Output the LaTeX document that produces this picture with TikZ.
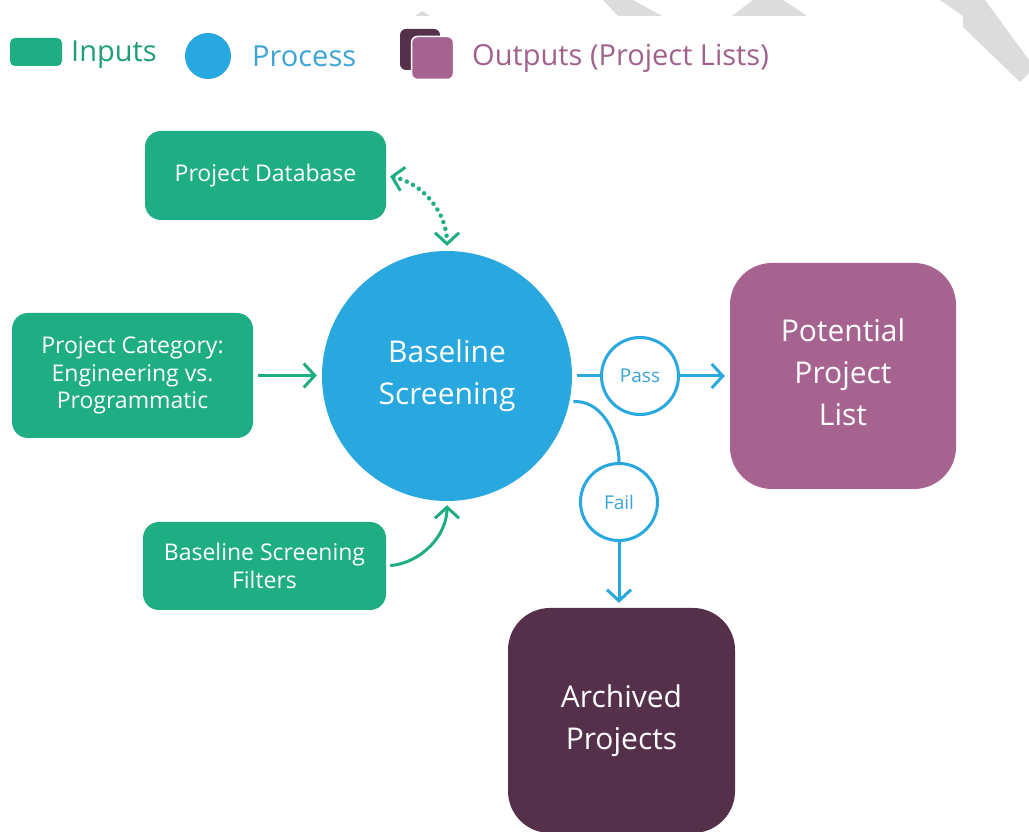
\documentclass[tikz,border=0pt]{standalone}
\usepackage{fontspec}
\setmainfont{Open Sans}
\usetikzlibrary{arrows.meta,calc}
\definecolor{ingreen}{HTML}{1FAD84}
\definecolor{ingreentxt}{HTML}{1E9F79}
\definecolor{procblue}{HTML}{29A8E0}
\definecolor{proctxt}{HTML}{3AA5D6}
\definecolor{outpink}{HTML}{A6638F}
\definecolor{outtxt}{HTML}{A0618C}
\definecolor{outdark}{HTML}{55304B}
\definecolor{wmgrey}{HTML}{DCDCDC}
\tikzset{
  inbox/.style={fill=ingreen, rounded corners=16pt, text=white, align=center, inner sep=0pt,
    font=\fontsize{23}{27.5}\selectfont},
  outbox/.style={rounded corners=42pt, text=white, align=center, inner sep=0pt,
    minimum width=226pt, font=\fontsize{30}{42}\selectfont},
  proc/.style={circle, fill=procblue, text=white, align=center, inner sep=0pt,
    minimum size=250pt, font=\fontsize{30}{42}\selectfont},
  gate/.style={circle, draw=procblue, line width=3pt, fill=white, text=proctxt, inner sep=0pt,
    minimum size=77pt, font=\fontsize{19}{23}\selectfont},
  barb/.tip={Straight Barb[length=11pt,width=24pt,line width=3pt]},
  gline/.style={draw=ingreen, line width=3pt},
  bline/.style={draw=procblue, line width=3pt},
  dotline/.style={draw=ingreen, line width=4.5pt, line cap=round, dash pattern=on 0pt off 7pt},
  legtxt/.style={anchor=base west, inner sep=0pt, font=\fontsize{29}{35}\selectfont},
}
\begin{document}
\begin{tikzpicture}[x=1pt,y=1pt]
\useasboundingbox (0,0) rectangle (1029,831);
% faint background stripes at the top edge
\fill[wmgrey] (415,815) -- (422,820) -- (430,815) -- cycle;
\fill[wmgrey] (603,831) -- (633,831) -- (662,815) -- (618,815) -- cycle;
\fill[wmgrey] (753,831) -- (783,831) -- (807,815) -- (732,815) -- cycle;
\fill[wmgrey] (940,831) -- (963,815) -- (963,804) -- (1020,749) -- (1029,758) -- (1029,771) -- (985,831) -- cycle;

% legend
\node[fill=ingreen, rounded corners=5pt, minimum width=52pt, minimum height=28pt, inner sep=0pt] (lgin) at (36,779) {};
\node[legtxt, text=ingreentxt] (lgintxt) at (71,769) {Inputs};
\node[circle, fill=procblue, minimum size=46pt, inner sep=0pt] (lgproc) at (208,775) {};
\node[legtxt, text=proctxt] (lgproctxt) at (252,764) {Process};
\node[fill=outdark, rounded corners=6pt, minimum width=40pt, minimum height=41pt, inner sep=0pt] (lgout1) at (420,781.5) {};
\node[fill=outpink, draw=white, line width=1.5pt, rounded corners=6pt, minimum width=42pt, minimum height=43pt, inner sep=0pt] (lgout2) at (432.5,773) {};
\node[legtxt, text=outtxt] (lgouttxt) at (472,765) {Outputs (Project Lists)};

% main nodes
\node[proc] (bs) at (447,455) {Baseline\\Screening};
\node[inbox, minimum width=241pt, minimum height=89pt] (db) at (265.5,655.5) {Project Database};
\node[inbox, minimum width=241pt, minimum height=125pt] (cat) at (132.5,455.5) {Project Category:\\Engineering vs.\\Programmatic};
\node[inbox, minimum width=243pt, minimum height=88pt] (filt) at (264.5,265) {Baseline Screening\\Filters};
\node[outbox, fill=outpink, minimum height=226pt, text depth=7pt] (pot) at (843,455) {Potential\\Project\\List};
\node[outbox, fill=outdark, minimum width=227pt, minimum height=225pt] (arch) at (621.5,110.5) {Archived\\Projects};
\node[gate] (pass) at (640,455) {Pass};
\node[gate] (fail) at (619,329) {Fail};

% connectors
\draw[dotline, {barb}-{barb}, shorten <=4pt, shorten >=5pt] (db.east) to[out=-12,in=90] (bs.north);
\draw[gline, -{barb}, shorten <=5pt, shorten >=5pt] (cat.east) -- (cat.east -| bs.west);
\draw[gline, -{barb}, shorten <=4pt, shorten >=4pt] (filt.east) to[out=5,in=-90] (bs.south);
\draw[bline, shorten <=5pt] (bs.east) -- (pass.west);
\draw[bline, -{barb}, shorten >=5pt] (pass.east) -- (pass.east -| pot.west);
\draw[bline, shorten <=4pt] (bs.-12) to[out=5,in=90] (fail.north);
\draw[bline, -{barb}, shorten >=5pt] (fail.south) -- (fail.south |- arch.north);
\end{tikzpicture}
\end{document}
